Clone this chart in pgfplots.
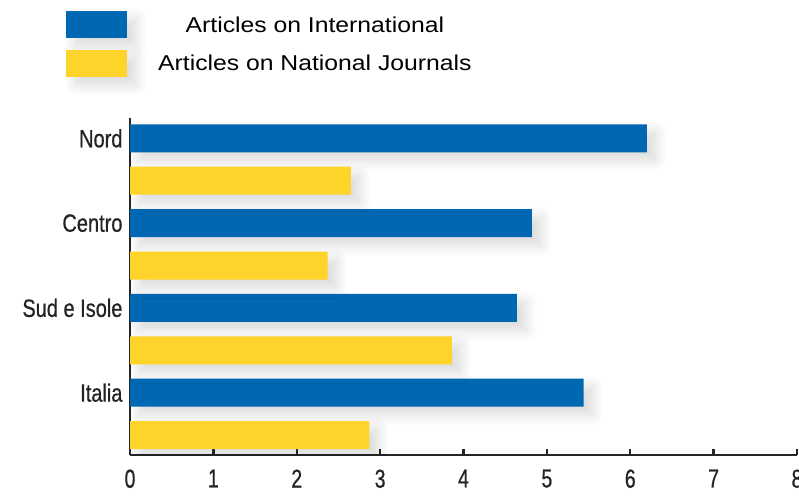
\documentclass[border=0pt]{standalone}
\usepackage{fontspec}
\usepackage{pgfplots}
\pgfplotsset{compat=1.18}
\usetikzlibrary{shadows.blur}
\setmainfont{Liberation Sans}
\newfontfamily\legfont[FakeStretch=1.15]{Liberation Sans}
\newfontfamily\condfont[FakeStretch=0.8,FakeBold=0.6]{Liberation Sans}
\newfontfamily\digfont[FakeStretch=0.75,FakeBold=0.6]{Liberation Sans}
\definecolor{barblue}{RGB}{0,104,179}
\definecolor{baryellow}{RGB}{255,212,42}
\definecolor{labgray}{RGB}{35,35,35}
\begin{document}
\begin{tikzpicture}
\path[use as bounding box] (0,0) rectangle (799pt,496pt);
\begin{axis}[
  at={(130pt,41pt)}, anchor=south west,
  scale only axis, width=667pt, height=337pt,
  xmin=0, xmax=8, ymin=0.53, ymax=8.48,
  xbar, bar width=28pt, bar shift=0pt,
  axis x line=bottom, axis y line=left,
  axis line style={-, line width=2.4pt, black!85},
  xtick={0,1,2,3,4,5,6,7,8},
  xticklabels={0,1,2,3,4,5,6,7,8},
  ytick={2,4,6,8},
  yticklabels={Italia,Sud e Isole,Centro,Nord},
  tick align=inside,
  major tick length=6pt,
  every tick/.style={line width=2.4pt, black!85},
  ytick style={draw=none},
  extra y ticks={0.67,1.67,2.67,3.67,4.67,5.67,6.67},
  extra y tick labels={},
  extra y tick style={major tick length=3pt, tick style={line width=2.4pt, black!85}},
  xticklabel style={font=\digfont\fontsize{26}{27}\selectfont, text=labgray, yshift=-11pt},
  yticklabel style={font=\condfont\fontsize{25}{26}\selectfont, text=labgray, xshift=-4pt},
  legend style={draw=none, fill=none, at={(axis description cs:0,1)}, anchor=north west,
    xshift=-64pt, yshift=107pt, inner sep=0pt, row sep=11.5pt, column sep=31pt,
    nodes={inner sep=0pt}, font=\legfont\fontsize{21.5}{23}\selectfont},
  legend cell align=center,
  legend image code/.code={\fill (0pt,-13pt) rectangle (61pt,14pt);},
  every axis plot/.append style={draw=none,
    blur shadow={shadow xshift=9pt, shadow yshift=-8pt, shadow opacity=15,
      shadow blur radius=11pt, shadow blur steps=12}},
]
\addplot[fill=barblue] coordinates {(6.20,8) (4.82,6) (4.64,4) (5.44,2)};
\addplot[fill=baryellow] coordinates {(2.65,7) (2.37,5) (3.86,3) (2.87,1)};
\legend{Articles on International, Articles on National Journals}
\end{axis}
\end{tikzpicture}
\end{document}
